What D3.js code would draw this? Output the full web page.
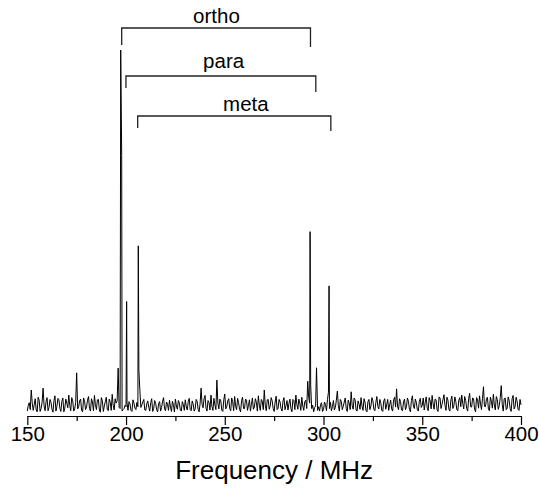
<!DOCTYPE html>
<html>
<head>
<meta charset="utf-8">
<script src="https://cdn.jsdelivr.net/npm/d3@7"></script>
<style>
    body { margin: 0; background: #fff; }
    text { font-family: "Liberation Sans", Arial, sans-serif; fill: #000; }
</style>
</head>
<body>
<svg id="spectrum"></svg>
<script>
// noise floor, one sample per MHz from 150 to 400
const noise = [
    0.8, 3.1, 6.6, 1.0, 4.2, 0.6, 3.8, 1.5, 7.1, 0.9,
    4.5, 1.8, 3.2, 0.5, 5.0, 2.1, 3.9, 0.7, 4.4, 1.6,
    3.0, 5.2, 0.9, 3.6, 1.4, 11.3, 2.0, 4.1, 0.6, 3.5,
    1.9, 4.8, 0.8, 3.3, 5.1, 1.2, 4.0, 0.5, 3.7, 2.2,
    4.6, 0.9, 3.2, 5.4, 1.1, 3.0, 12.6, 1.5, 0.8, 1.5,
    2.0, 1.0, 2.8, 0.7, 3.0, 1.2, 2.0, 6.5, 2.5, 4.0,
    1.0, 3.6, 0.8, 4.2, 1.5, 2.9, 0.6, 3.4, 1.8, 4.5,
    0.9, 2.7, 3.8, 0.7, 2.4, 4.1, 1.3, 3.0, 0.8, 2.6,
    3.9, 1.1, 4.3, 0.9, 2.8, 1.4, 3.5, 0.6, 7.1, 1.7,
    5.1, 0.8, 3.2, 5.2, 1.0, 2.5, 9.3, 1.4, 3.6, 0.7,
    5.5, 2.0, 4.2, 0.9, 3.4, 4.8, 1.2, 3.1, 0.6, 4.6,
    1.5, 3.8, 2.4, 0.8, 4.4, 1.9, 3.2, 5.0, 1.0, 3.5,
    6.6, 0.9, 4.0, 2.2, 3.6, 0.7, 4.9, 1.6, 3.3, 0.8,
    4.5, 2.3, 1.1, 4.1, 0.6, 3.7, 5.2, 1.3, 2.9, 4.6,
    1.0, 3.8, 9.0, 3.0, 1.5, 0.6, 2.2, 1.0, 0.8, 3.1,
    1.2, 2.6, 4.0, 1.5, 0.9, 3.7, 1.8, 6.3, 0.8, 3.5,
    2.1, 4.4, 0.7, 3.0, 6.1, 1.3, 3.9, 0.8, 2.7, 4.5,
    1.0, 3.3, 0.6, 4.0, 2.2, 3.6, 0.9, 4.8, 1.4, 3.1,
    0.7, 4.2, 2.5, 1.0, 3.8, 0.8, 4.6, 6.9, 1.2, 3.4,
    0.9, 4.1, 2.0, 3.5, 0.6, 5.0, 1.5, 3.2, 0.8, 4.3,
    2.4, 1.1, 4.7, 0.9, 3.6, 5.1, 1.3, 3.9, 0.7, 4.4,
    2.6, 5.3, 1.0, 3.8, 0.8, 4.9, 2.2, 3.4, 0.9, 4.5,
    5.2, 1.4, 3.7, 0.8, 5.7, 1.9, 4.2, 0.6, 3.9, 5.0,
    1.2, 7.5, 2.0, 4.6, 0.9, 3.5, 5.4, 1.1, 4.0, 2.3,
    7.8, 0.8, 4.4, 1.6, 3.7, 0.7, 5.1, 2.0, 3.6, 1.0,
    2.5
]
const noiseStart = 150

// in-between samples at 150.5, 151.5 ... 399.5 (null where a line sits)
const noiseHalf = [
    2.4, 1.2, 3.0, 2.6, 1.1, 4.6, 0.7, 3.3, 2.2, 3.4,
    0.9, 4.0, 1.3, 3.7, 0.8, 4.3, 1.6, 3.5, 0.6, 4.1,
    1.7, 2.3, 4.5, 0.8, 3.2, 1.4, 3.6, 1.0, 4.4, 1.2,
    3.8, 1.5, 4.2, 0.9, 2.6, 3.9, 1.1, 4.5, 0.7, 3.4,
    1.3, 4.1, 1.0, 2.4, 4.2, 3.6, 1.8, null, 1.2, 2.4,
    3.0, 3.4, 1.0, 3.9, 1.6, 3.2, 12.0, 1.8, 3.3, 1.1,
    2.8, 1.9, 3.1, 0.7, 3.7, 1.2, 2.9, 0.8, 3.5, 1.4,
    3.3, 1.0, 1.9, 3.5, 0.6, 2.2, 3.7, 1.1, 3.4, 1.0,
    2.0, 3.4, 1.2, 3.6, 0.8, 4.0, 1.3, 2.9, 2.6, 4.2,
    1.6, 3.7, 1.1, 2.0, 4.3, 1.2, 3.0, 4.1, 1.0, 3.9,
    1.4, 3.6, 1.5, 4.4, 0.9, 2.1, 4.3, 1.3, 3.7, 1.5,
    4.1, 1.0, 3.9, 2.7, 1.3, 4.2, 0.8, 2.4, 4.0, 1.2,
    2.4, 3.9, 1.3, 4.5, 1.5, 3.3, 1.2, 4.0, 1.5, 3.6,
    1.2, 3.7, 2.9, 1.5, 4.0, 1.2, 2.6, 4.1, 1.0, 2.2,
    3.4, 1.5, 4.5, 8.0, 2.4, 1.8, null, 2.0, 2.6, 0.7,
    3.3, 0.9, 6.0, 3.2, 2.0, 1.1, 3.8, 2.3, 4.0, 1.2,
    3.3, 1.5, 3.8, 1.2, 2.4, 4.4, 1.1, 3.6, 1.3, 2.2,
    4.2, 1.0, 3.4, 1.2, 4.5, 1.3, 3.2, 2.1, 4.0, 1.0,
    3.6, 1.3, 4.0, 2.6, 1.4, 3.9, 1.9, 2.0, 4.2, 1.1,
    3.3, 1.2, 4.4, 1.3, 3.7, 2.2, 4.1, 1.2, 3.5, 1.8,
    4.4, 3.2, 1.6, 4.5, 1.4, 2.8, 4.1, 1.2, 4.7, 1.5,
    4.0, 2.4, 4.6, 1.3, 3.9, 1.5, 4.7, 1.2, 3.8, 2.0,
    2.9, 4.8, 1.5, 4.3, 2.0, 4.4, 1.3, 4.5, 1.6, 2.7,
    4.3, 2.1, 4.1, 1.4, 4.6, 1.6, 2.5, 4.8, 1.3, 4.5,
    2.6, 4.2, 1.2, 4.7, 1.5, 4.2, 1.4, 4.6, 1.3, 4.0
]

// resonance lines: frequency (MHz), intensity
const peakFreqs = [197.3, 197.8, 200.3, 206.2, 293.2, 296.45, 302.8]
const peakHeights = [100, 71, 30.9, 46.2, 50.1, 12.7, 35.2]

// assignment brackets
const bracketNames = ["ortho", "para", "meta"]
const bracketFrom = [197.8, 199.95, 205.9]
const bracketTo = [293.4, 296.1, 303.7]
const bracketLabelAt = [245.8, 249.4, 260.7]

const majorTicks = [150, 200, 250, 300, 350, 400]
const minorTicks = [175, 225, 275, 325, 375]
const xTitle = "Frequency / MHz"

const chart = { width: 539, height: 494 }
const plot = { left: 27.3, right: 521, axisY: 416, base: 414, top: 50 }
// vertical layout of the brackets: line, left leg end, right leg end, label baseline
const bracketLayout = [
    { y: 28, left: 45, right: 47, text: 23 },
    { y: 76, left: 88, right: 92, text: 68 },
    { y: 116, left: 128, right: 131, text: 111 }
]

const svg = d3.select("#spectrum")
    .attr("width", chart.width)
    .attr("height", chart.height)

const x = d3.scaleLinear()
    .domain([150, 400])
    .range([plot.left, plot.right])

const y = d3.scaleLinear()
    .domain([0, 100])
    .range([plot.base, plot.top])

let points = noise.map((v, i) => ({ f: noiseStart + i, v: v }))
noiseHalf.forEach((v, i) => {
    if (v !== null) points.push({ f: noiseStart + i + 0.5, v: v })
})
peakFreqs.forEach((f, i) => points.push({ f: f, v: peakHeights[i] }))
points.sort((a, b) => a.f - b.f)

svg.append("path")
    .datum(points)
    .attr("fill", "none")
    .attr("stroke", "#000")
    .attr("stroke-width", 1)
    .attr("d", d3.line()
        .x(d => x(d.f))
        .y(d => y(d.v))
    )

// axis
const xAxis = svg.append("g")
    .attr("transform", "translate(0," + plot.axisY + ")")
    .call(d3.axisBottom(x)
        .tickValues(majorTicks)
        .tickSizeInner(9)
        .tickSizeOuter(0)
        .tickPadding(1.5)
        .tickFormat(d3.format("d")))

xAxis.select(".domain").attr("stroke", "#000").attr("stroke-width", 1.2)
xAxis.selectAll(".tick line").attr("stroke", "#000").attr("stroke-width", 1.2)
xAxis.selectAll(".tick text")
    .attr("font-size", 20.5)
    .attr("font-family", "'Liberation Sans', Arial, sans-serif")
    .attr("fill", "#000")

const minorAxis = svg.append("g")
    .attr("transform", "translate(0," + plot.axisY + ")")
    .call(d3.axisBottom(x)
        .tickValues(minorTicks)
        .tickSizeInner(5)
        .tickSizeOuter(0)
        .tickFormat(""))
minorAxis.select(".domain").remove()
minorAxis.selectAll(".tick line").attr("stroke", "#000").attr("stroke-width", 1.2)

svg.append("text")
    .attr("x", (plot.left + plot.right) / 2)
    .attr("y", 479)
    .attr("text-anchor", "middle")
    .attr("font-size", 26)
    .text(xTitle)

// brackets
bracketNames.forEach((name, i) => {
    const L = bracketLayout[i]
    const x0 = x(bracketFrom[i])
    const x1 = x(bracketTo[i])
    svg.append("path")
        .attr("fill", "none")
        .attr("stroke", "#222")
        .attr("stroke-width", 1.3)
        .attr("d", "M" + x0 + "," + L.left + "V" + L.y + "H" + x1 + "V" + L.right)
    svg.append("text")
        .attr("x", x(bracketLabelAt[i]))
        .attr("y", L.text)
        .attr("text-anchor", "middle")
        .attr("font-size", 20.5)
        .text(name)
})
</script>
</body>
</html>
